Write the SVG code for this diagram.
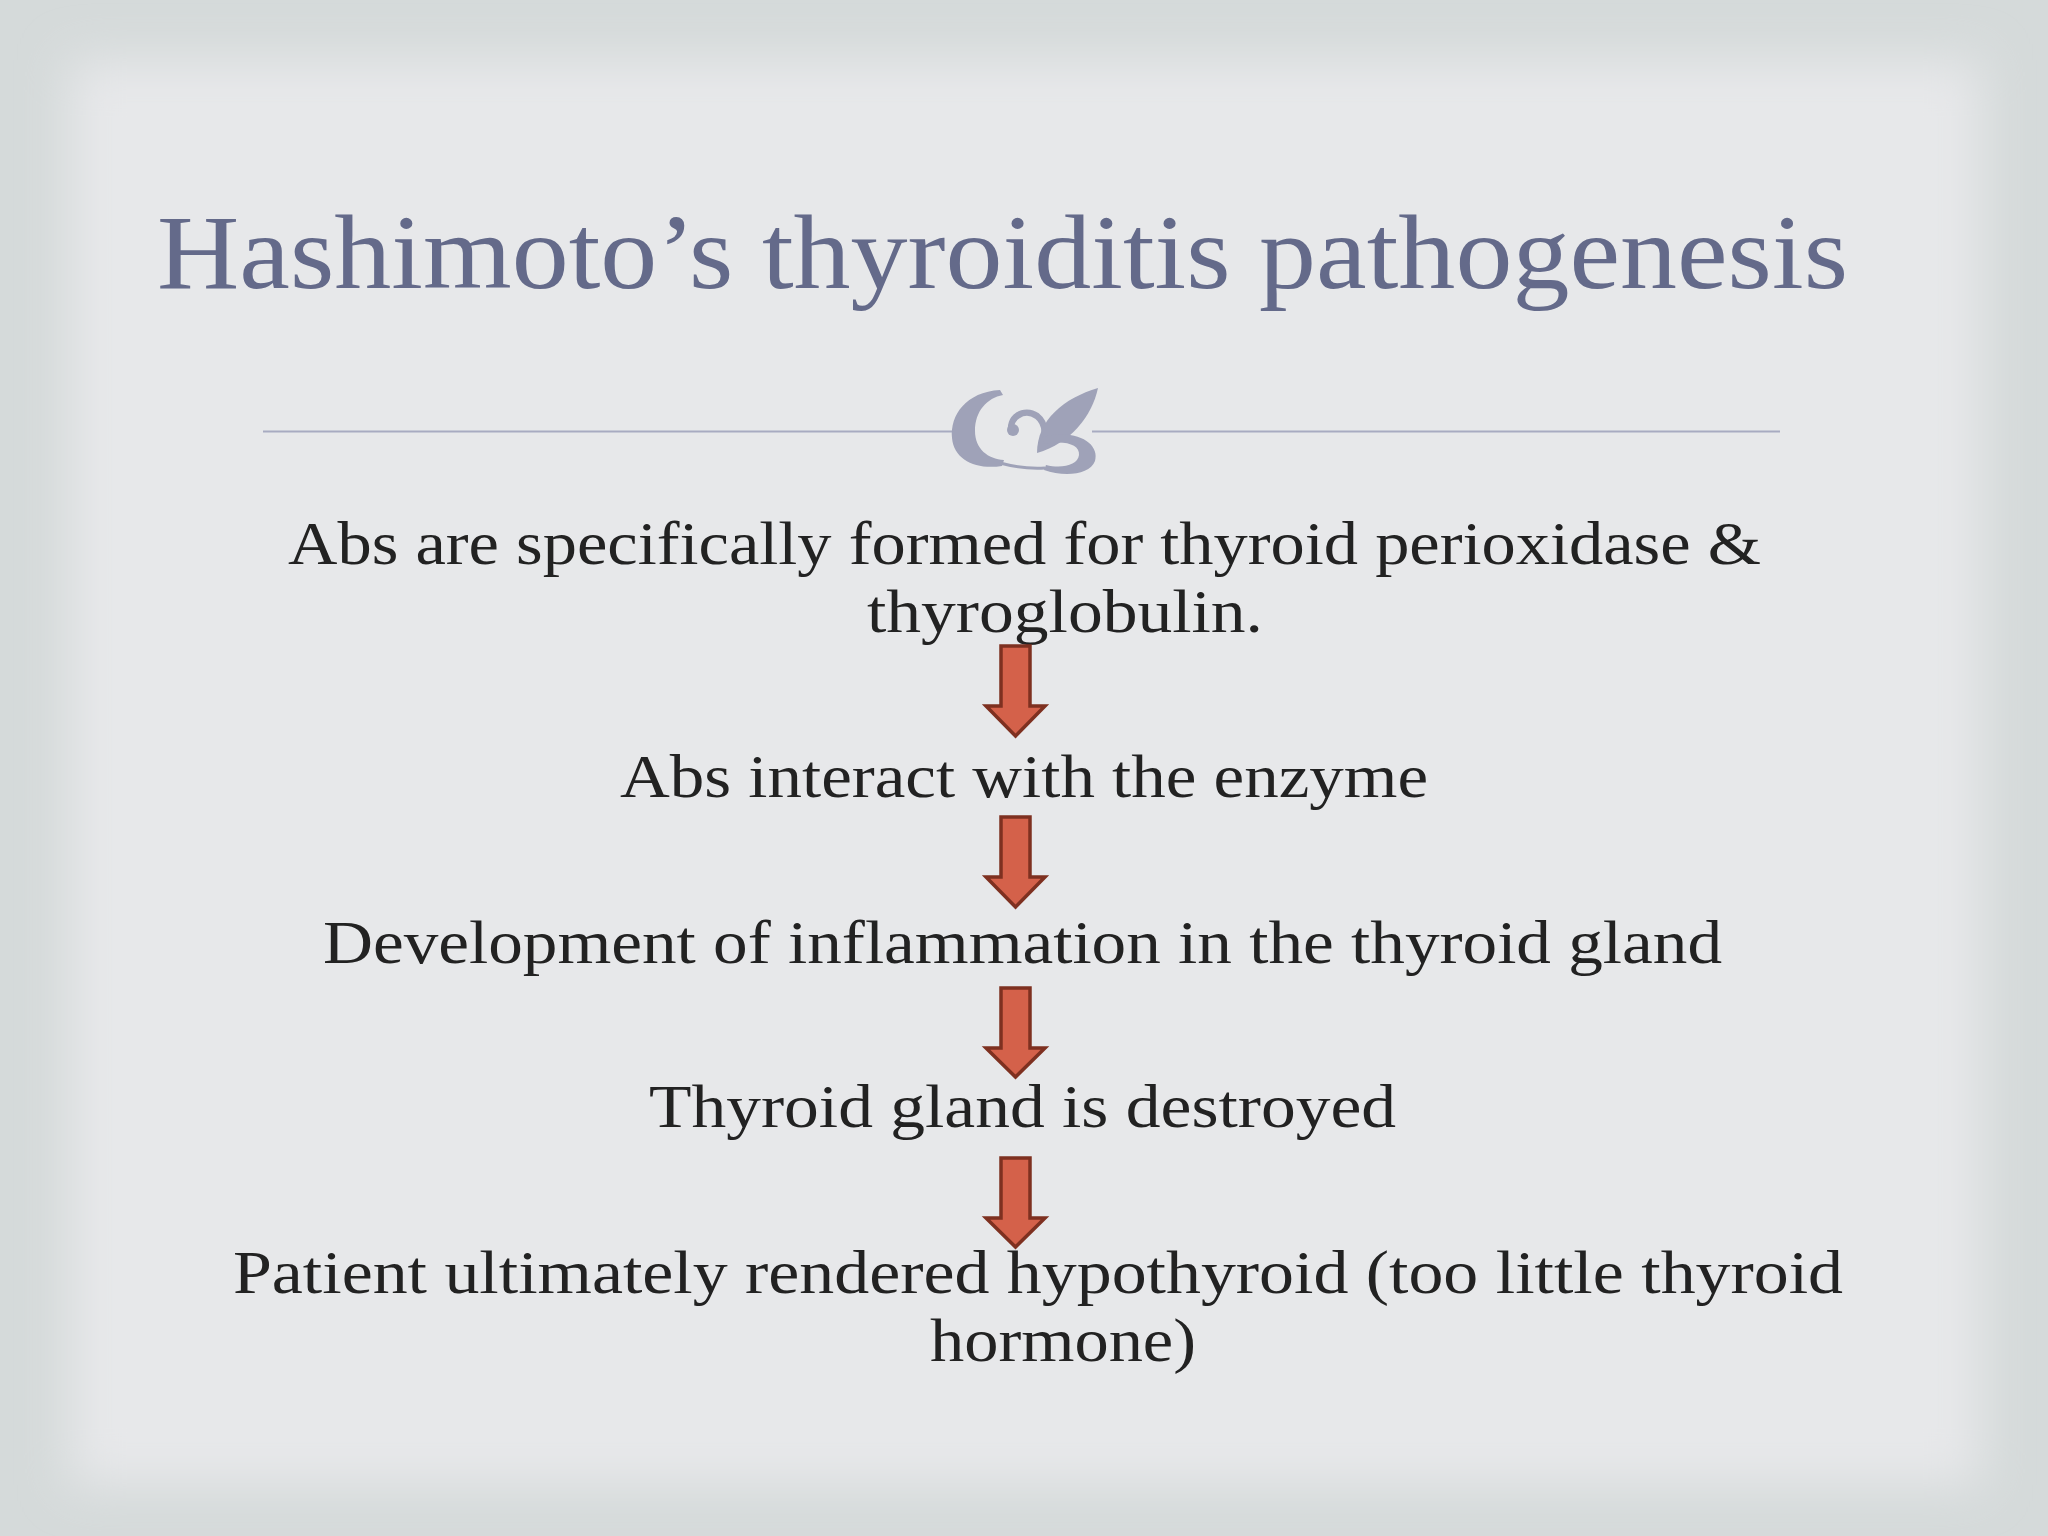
<svg xmlns="http://www.w3.org/2000/svg" width="2048" height="1536" viewBox="0 0 2048 1536">
<defs>
<filter id="blur" x="-10%" y="-10%" width="120%" height="120%"><feGaussianBlur stdDeviation="24"/></filter>
<style>
.title{font-family:"Liberation Serif","DejaVu Serif",serif;font-size:106px;fill:#646a8a}
.body{font-family:"Liberation Serif","DejaVu Serif",serif;font-size:62px;fill:#222222}
.arrow{fill:#d4614a;stroke:#7e3020;stroke-width:3.5;stroke-linejoin:miter}
.rule{stroke:#a8abc1;stroke-width:2}
.orn{fill:#9fa2b8}
</style>
</defs>
<rect width="2048" height="1536" fill="#d5dada"/>
<rect x="70" y="60" width="1910" height="1425" fill="#e7e8ea" filter="url(#blur)"/>
<g id="title"><text class="title" x="157" y="288" textLength="1691" lengthAdjust="spacingAndGlyphs">Hashimoto’s thyroiditis pathogenesis</text></g>
<g id="divider">
<line class="rule" x1="263" y1="431.5" x2="958" y2="431.5"/>
<line class="rule" x1="1092" y1="431.5" x2="1780" y2="431.5"/>
<path class="orn" d="M1000 390 C966 392 950 415 952 438 C954 460 976 470 1002 466 L1004 460 C988 459 975 449 975 431 C975 411 987 398 1003 395 Z"/>
<circle class="orn" cx="1013" cy="430" r="6"/>
<path d="M1012 433 C1007 418 1024 407 1037 416 C1047 424 1046 438 1041 448" fill="none" stroke="#9fa2b8" stroke-width="6.5"/>
<path class="orn" d="M1037 453 C1037 420 1064 398 1098 388 C1092 416 1071 443 1037 453 Z"/>
<path class="orn" d="M1042 437 C1078 428 1100 444 1095 461 C1090 475 1064 477 1044 470 L1046 465 C1062 469 1078 465 1079 455 C1080 445 1066 440 1044 444 Z"/>
<path d="M1000 463 C1015 467 1030 469 1045 468" fill="none" stroke="#9fa2b8" stroke-width="3"/>
</g>
<g id="node1"><text class="body" x="288" y="564" textLength="1473" lengthAdjust="spacingAndGlyphs">Abs are specifically formed for thyroid perioxidase &amp;</text>
<text class="body" x="867" y="632" textLength="396" lengthAdjust="spacingAndGlyphs">thyroglobulin.</text></g>
<g id="node2"><text class="body" x="620" y="797" textLength="808" lengthAdjust="spacingAndGlyphs">Abs interact with the enzyme</text></g>
<g id="node3"><text class="body" x="323" y="963" textLength="1399" lengthAdjust="spacingAndGlyphs">Development of inflammation in the thyroid gland</text></g>
<g id="node4"><text class="body" x="649" y="1127" textLength="747" lengthAdjust="spacingAndGlyphs">Thyroid gland is destroyed</text></g>
<g id="node5"><text class="body" x="233" y="1293" textLength="1610" lengthAdjust="spacingAndGlyphs">Patient ultimately rendered hypothyroid (too little thyroid</text>
<text class="body" x="930" y="1361" textLength="266" lengthAdjust="spacingAndGlyphs">hormone)</text></g>
<g id="connectors">
<path class="arrow" d="M1001 646 H1030 V706 H1045 L1015.5 736 L986 706 H1001 Z"/>
<path class="arrow" d="M1001 817 H1030 V877 H1045 L1015.5 907 L986 877 H1001 Z"/>
<path class="arrow" d="M1001 988 H1030 V1048 H1045 L1015.5 1077 L986 1048 H1001 Z"/>
<path class="arrow" d="M1001 1158 H1030 V1218 H1045 L1015.5 1247 L986 1218 H1001 Z"/>
</g>
</svg>
